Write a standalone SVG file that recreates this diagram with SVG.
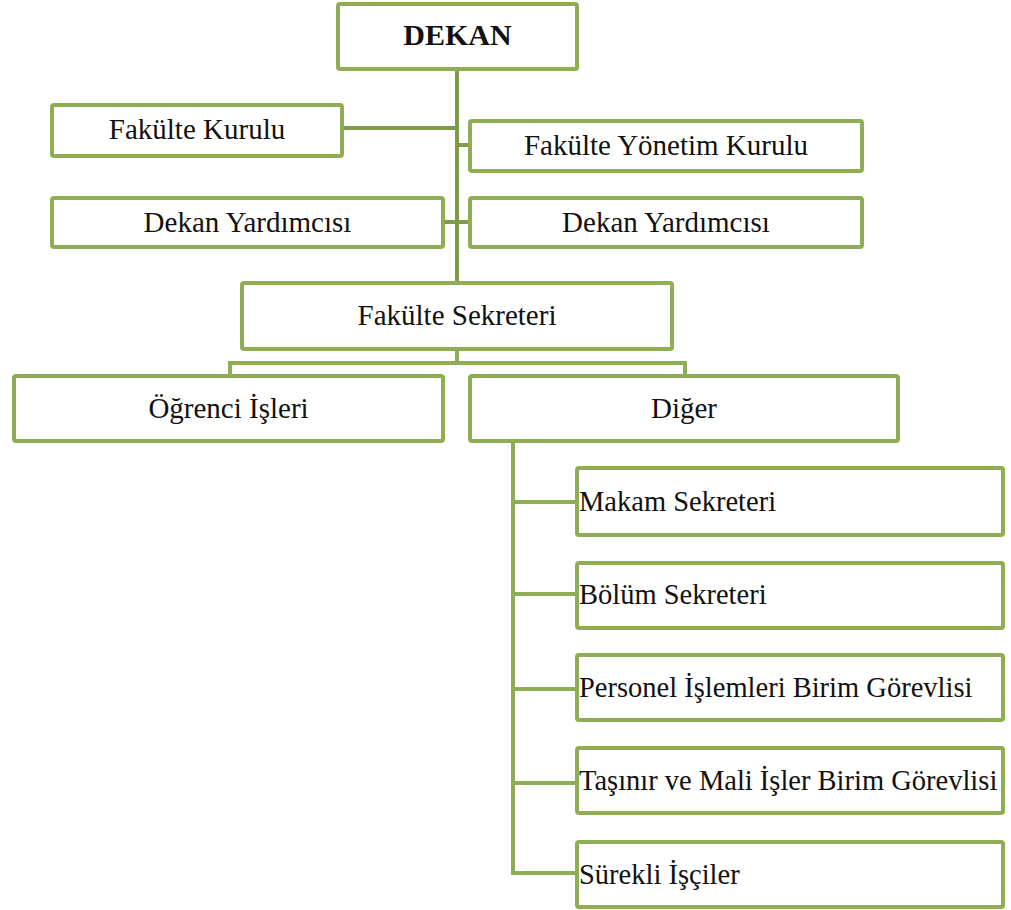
<svg xmlns="http://www.w3.org/2000/svg" width="1011" height="910" viewBox="0 0 1011 910">
<style>
.b{fill:#fff;stroke:#8FAD52;stroke-width:4}
.c{fill:none;stroke:#8FAD52;stroke-width:4}
.t{stroke:#7E9B47}
text{font-family:'Liberation Serif','Times New Roman',serif;font-size:28.5px;fill:#111}
.m{text-anchor:middle;font-size:29px}
.bd{font-weight:bold;font-size:30px}
</style>
<rect width="1011" height="910" fill="#fff"/>
<g id="connectors">
<path class="c t" d="M457 69V283"/>
<path class="c t" d="M342 128H457M457 145H470M443 222H470"/>
<path class="c" d="M457 349V363M230 376V363H685V376"/>
<path class="c" d="M513 441V873H577M513 502H577M513 594H577M513 689H577M513 783H577"/>
</g>
<g id="dekan"><rect class="b" x="338" y="4" width="239" height="65" rx="2"/><text class="m bd" x="457.5" y="45">DEKAN</text></g>
<g id="fakulte-kurulu"><rect class="b" x="52" y="105" width="290" height="51" rx="2"/><text class="m" x="197" y="139">Fakülte Kurulu</text></g>
<g id="fakulte-yonetim-kurulu"><rect class="b" x="470" y="121" width="392" height="50" rx="2"/><text class="m" x="666" y="155">Fakülte Yönetim Kurulu</text></g>
<g id="dekan-yardimcisi-1"><rect class="b" x="52" y="198" width="391" height="49" rx="2"/><text class="m" x="247.5" y="232">Dekan Yardımcısı</text></g>
<g id="dekan-yardimcisi-2"><rect class="b" x="470" y="198" width="392" height="49" rx="2"/><text class="m" x="666" y="232">Dekan Yardımcısı</text></g>
<g id="fakulte-sekreteri"><rect class="b" x="242" y="283" width="430" height="66" rx="2"/><text class="m" x="457" y="325">Fakülte Sekreteri</text></g>
<g id="ogrenci-isleri"><rect class="b" x="14" y="376" width="429" height="65" rx="2"/><text class="m" x="228.5" y="418">Öğrenci İşleri</text></g>
<g id="diger"><rect class="b" x="470" y="376" width="428" height="65" rx="2"/><text class="m" x="684" y="418">Diğer</text></g>
<g id="makam-sekreteri"><rect class="b" x="577" y="468" width="426" height="67" rx="2"/><text x="579" y="511">Makam Sekreteri</text></g>
<g id="bolum-sekreteri"><rect class="b" x="577" y="563" width="426" height="65" rx="2"/><text x="579" y="604">Bölüm Sekreteri</text></g>
<g id="personel"><rect class="b" x="577" y="655" width="426" height="65" rx="2"/><text x="579" y="697">Personel İşlemleri Birim Görevlisi</text></g>
<g id="tasinir"><rect class="b" x="577" y="748" width="426" height="65" rx="2"/><text x="579" y="790">Taşınır ve Mali İşler Birim Görevlisi</text></g>
<g id="surekli"><rect class="b" x="577" y="842" width="426" height="65" rx="2"/><text x="579" y="884">Sürekli İşçiler</text></g>
</svg>
